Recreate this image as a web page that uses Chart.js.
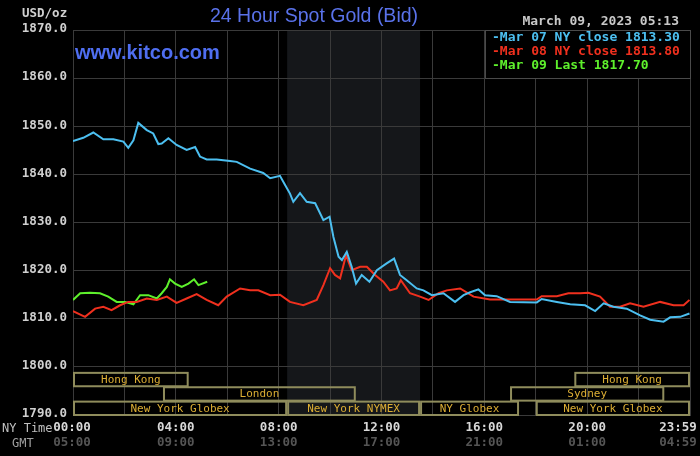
<!DOCTYPE html>
<html>
<head>
<meta charset="utf-8">
<script src="https://cdn.jsdelivr.net/npm/chart.js@4/dist/chart.umd.min.js"></script>
<style>
  body { margin: 0; background: #000; }
  #wrap { position: relative; width: 700px; height: 456px; }
</style>
</head>
<body>
<div id="wrap"><canvas id="grafica" width="700" height="456"></canvas></div>
<script>
// hours since 00:00 NY time
const horasMar07 = [0, 0.4, 0.79, 1.18, 1.57, 1.96, 2.15, 2.35, 2.54, 2.87, 3.12, 3.32, 3.45, 3.71, 4.03, 4.42, 4.75, 4.94, 5.2, 5.59, 6.11, 6.37, 6.89, 7.4, 7.67, 8.05, 8.25, 8.44, 8.57, 8.83, 9.09, 9.42, 9.74, 9.98, 10.13, 10.33, 10.46, 10.65, 10.84, 11.01, 11.23, 11.53, 11.82, 12.2, 12.49, 12.72, 12.98, 13.37, 13.63, 13.96, 14.41, 14.86, 15.19, 15.45, 15.77, 16.03, 16.48, 17.0, 18.04, 18.23, 18.82, 19.34, 19.92, 20.31, 20.64, 21.02, 21.54, 22.06, 22.45, 22.97, 23.23, 23.62, 23.98];
const valoresMar07 = [1846.9, 1847.6, 1848.7, 1847.3, 1847.3, 1846.8, 1845.5, 1847.1, 1850.7, 1849.2, 1848.5, 1846.3, 1846.4, 1847.5, 1846.1, 1845.1, 1845.7, 1843.7, 1843.1, 1843.1, 1842.8, 1842.6, 1841.2, 1840.3, 1839.2, 1839.7, 1837.8, 1836.0, 1834.3, 1836.1, 1834.3, 1834.0, 1830.5, 1831.2, 1827.0, 1822.9, 1822.2, 1823.9, 1820.8, 1817.3, 1819.1, 1817.7, 1820.1, 1821.5, 1822.5, 1819.1, 1818.0, 1816.3, 1815.9, 1814.9, 1815.3, 1813.5, 1814.9, 1815.5, 1816.1, 1814.9, 1814.7, 1813.5, 1813.4, 1814.1, 1813.5, 1813.0, 1812.8, 1811.6, 1813.2, 1812.5, 1812.1, 1810.7, 1809.8, 1809.4, 1810.3, 1810.4, 1811.1];

const horasMar08 = [0, 0.47, 0.86, 1.18, 1.5, 1.83, 2.15, 2.48, 2.87, 3.26, 3.65, 4.03, 4.42, 4.81, 5.2, 5.65, 5.98, 6.5, 6.89, 7.21, 7.67, 8.05, 8.44, 8.96, 9.48, 9.74, 10.0, 10.19, 10.39, 10.62, 10.84, 11.17, 11.43, 11.75, 12.07, 12.33, 12.59, 12.75, 13.11, 13.5, 13.83, 14.22, 14.54, 15.06, 15.58, 16.22, 17.0, 18.04, 18.23, 18.82, 19.27, 19.73, 20.05, 20.5, 20.89, 21.28, 21.67, 22.19, 22.84, 23.36, 23.75, 23.98];
const valoresMar08 = [1811.6, 1810.4, 1812.1, 1812.5, 1811.8, 1812.8, 1813.5, 1813.5, 1814.2, 1813.9, 1814.6, 1813.3, 1814.2, 1815.1, 1813.9, 1812.8, 1814.6, 1816.3, 1815.9, 1815.9, 1814.9, 1815.0, 1813.5, 1812.8, 1813.9, 1817.0, 1820.5, 1819.1, 1818.4, 1823.2, 1820.1, 1820.8, 1820.8, 1819.1, 1817.7, 1815.9, 1816.3, 1818.0, 1815.3, 1814.6, 1813.9, 1815.3, 1815.9, 1816.3, 1814.6, 1814.0, 1814.0, 1814.0, 1814.7, 1814.7, 1815.3, 1815.3, 1815.4, 1814.6, 1812.5, 1812.5, 1813.2, 1812.5, 1813.5, 1812.8, 1812.8, 1813.9];

const horasMar09 = [0, 0.28, 0.66, 1.05, 1.37, 1.7, 2.02, 2.35, 2.61, 2.93, 3.26, 3.45, 3.65, 3.77, 3.97, 4.23, 4.49, 4.71, 4.88, 5.22];
const valoresMar09 = [1813.9, 1815.3, 1815.4, 1815.3, 1814.6, 1813.5, 1813.5, 1813.0, 1814.9, 1814.9, 1814.2, 1815.3, 1816.6, 1818.2, 1817.3, 1816.6, 1817.3, 1818.2, 1817.0, 1817.7];

const leyendas = ["Mar 07 NY close 1813.30", "Mar 08 NY close 1813.80", "Mar 09 Last 1817.70"];
const colores = ["#4cbff0", "#f0301e", "#5ef02c"];

const ticksY = [1790, 1800, 1810, 1820, 1830, 1840, 1850, 1860, 1870];
const ticksHora = [0, 4, 8, 12, 16, 20, 24];
const etiquetasNY = ["00:00", "04:00", "08:00", "12:00", "16:00", "20:00", "23:59"];
const etiquetasGMT = ["05:00", "09:00", "13:00", "17:00", "21:00", "01:00", "04:59"];

// trading sessions: name, start, end (hours), row
const sesiones = ["Hong Kong", "Hong Kong", "London", "Sydney", "New York Globex", "New York NYMEX", "NY Globex", "New York Globex"];
const sesionInicio = [0, 19.5, 3.5, 17.0, 0, 8.33, 13.5, 18.0];
const sesionFin = [4.5, 24, 11.0, 23.0, 8.33, 13.5, 17.35, 24];
const sesionFila = [0, 0, 1, 1, 2, 2, 2, 2];
const nymexInicio = 8.33, nymexFin = 13.5;

const MONO = "'DejaVu Sans Mono', monospace";

function serie(horas, valores) {
  return horas.map((h, i) => ({ x: h, y: valores[i] }));
}

const fondoPlugin = {
  id: "fondo",
  beforeDraw(chart) {
    const { ctx, chartArea: a, scales } = chart;
    ctx.save();
    ctx.fillStyle = "#000";
    ctx.fillRect(0, 0, chart.width, chart.height);
    const x1 = scales.x.getPixelForValue(nymexInicio);
    const x2 = scales.x.getPixelForValue(nymexFin);
    ctx.fillStyle = "#15171a";
    ctx.fillRect(x1, a.top, x2 - x1, a.bottom - a.top);
    ctx.restore();
  },
};

const textosPlugin = {
  id: "textos",
  afterDraw(chart) {
    const { ctx, chartArea: a, scales } = chart;
    const sx = scales.x, sy = scales.y;
    ctx.save();

    // session boxes
    const y1800 = sy.getPixelForValue(1800);
    const filaH = (a.bottom - y1800 - 5) / 3;
    ctx.lineWidth = 2;
    ctx.font = "11px " + MONO;
    ctx.textAlign = "center";
    ctx.textBaseline = "middle";
    sesiones.forEach((nombre, i) => {
      const xa = sx.getPixelForValue(sesionInicio[i]);
      const xb = sx.getPixelForValue(sesionFin[i]);
      const ya = y1800 + 5 + sesionFila[i] * filaH;
      ctx.strokeStyle = "#8f8c5c";
      ctx.strokeRect(xa + 1, ya + 1, xb - xa - 2, filaH - 1);
      ctx.fillStyle = "#dcae34";
      ctx.fillText(nombre, (xa + xb) / 2, ya + filaH / 2 + 1);
    });

    // y labels
    ctx.font = "bold 12.5px " + MONO;
    ctx.textAlign = "right";
    ctx.fillStyle = "#d0d0d0";
    ticksY.forEach((v) => {
      ctx.fillText(v.toFixed(1), 67, sy.getPixelForValue(v) - 1);
    });
    ctx.textAlign = "left";
    ctx.fillText("USD/oz", 22, 14);

    // x labels
    ticksHora.forEach((h, i) => {
      let x = sx.getPixelForValue(h);
      if (i === 0) x = 72;
      if (i === ticksHora.length - 1) x = 678;
      ctx.textAlign = "center";
      ctx.fillStyle = "#d8d8d8";
      ctx.fillText(etiquetasNY[i], x, 428);
      ctx.fillStyle = "#555";
      ctx.fillText(etiquetasGMT[i], x, 443);
    });
    ctx.font = "12px " + MONO;
    ctx.textAlign = "left";
    ctx.fillStyle = "#c0c0c0";
    ctx.fillText("NY Time", 2, 429);
    ctx.fillStyle = "#a0a0a0";
    ctx.fillText("GMT", 12, 444);

    // title + site
    ctx.font = "19.5px 'Liberation Sans', Arial, sans-serif";
    ctx.textAlign = "center";
    ctx.fillStyle = "#5a72ea";
    ctx.fillText("24 Hour Spot Gold (Bid)", 314, 17);
    ctx.font = "bold 20px 'Liberation Sans', Arial, sans-serif";
    ctx.textAlign = "left";
    ctx.fillStyle = "#4f6ef0";
    ctx.fillText("www.kitco.com", 75, 53);

    // date
    ctx.font = "bold 13px " + MONO;
    ctx.textAlign = "right";
    ctx.fillStyle = "#c8c8c8";
    ctx.fillText("March 09, 2023 05:13", 679, 22);

    // legend box
    ctx.fillStyle = "#000";
    ctx.fillRect(486, 31, 204, 47);
    ctx.strokeStyle = "#4a4a4a";
    ctx.lineWidth = 1;
    ctx.strokeRect(485.5, 30.5, 205, 48);
    ctx.textAlign = "left";
    leyendas.forEach((t, i) => {
      ctx.fillStyle = colores[i];
      ctx.fillText("-" + t, 492, 38 + i * 14);
    });
    ctx.restore();
  },
};

new Chart(document.getElementById("grafica"), {
  type: "line",
  data: {
    datasets: [
      { data: serie(horasMar07, valoresMar07), borderColor: colores[0] },
      { data: serie(horasMar08, valoresMar08), borderColor: colores[1] },
      { data: serie(horasMar09, valoresMar09), borderColor: colores[2] },
    ],
  },
  options: {
    responsive: false,
    animation: false,
    layout: { padding: { left: 73, right: 10, top: 30, bottom: 41 } },
    elements: {
      line: { borderWidth: 2, tension: 0 },
      point: { radius: 0 },
    },
    plugins: { legend: { display: false }, tooltip: { enabled: false } },
    scales: {
      x: {
        type: "linear",
        min: 0,
        max: 24,
        ticks: { display: false, stepSize: 2 },
        grid: { color: "#3a3a3a", drawTicks: false },
        border: { color: "#3a3a3a" },
      },
      y: {
        min: 1790,
        max: 1870,
        ticks: { display: false, stepSize: 10 },
        grid: { color: "#3a3a3a", drawTicks: false },
        border: { color: "#3a3a3a" },
      },
    },
  },
  plugins: [fondoPlugin, textosPlugin],
});
</script>
</body>
</html>
